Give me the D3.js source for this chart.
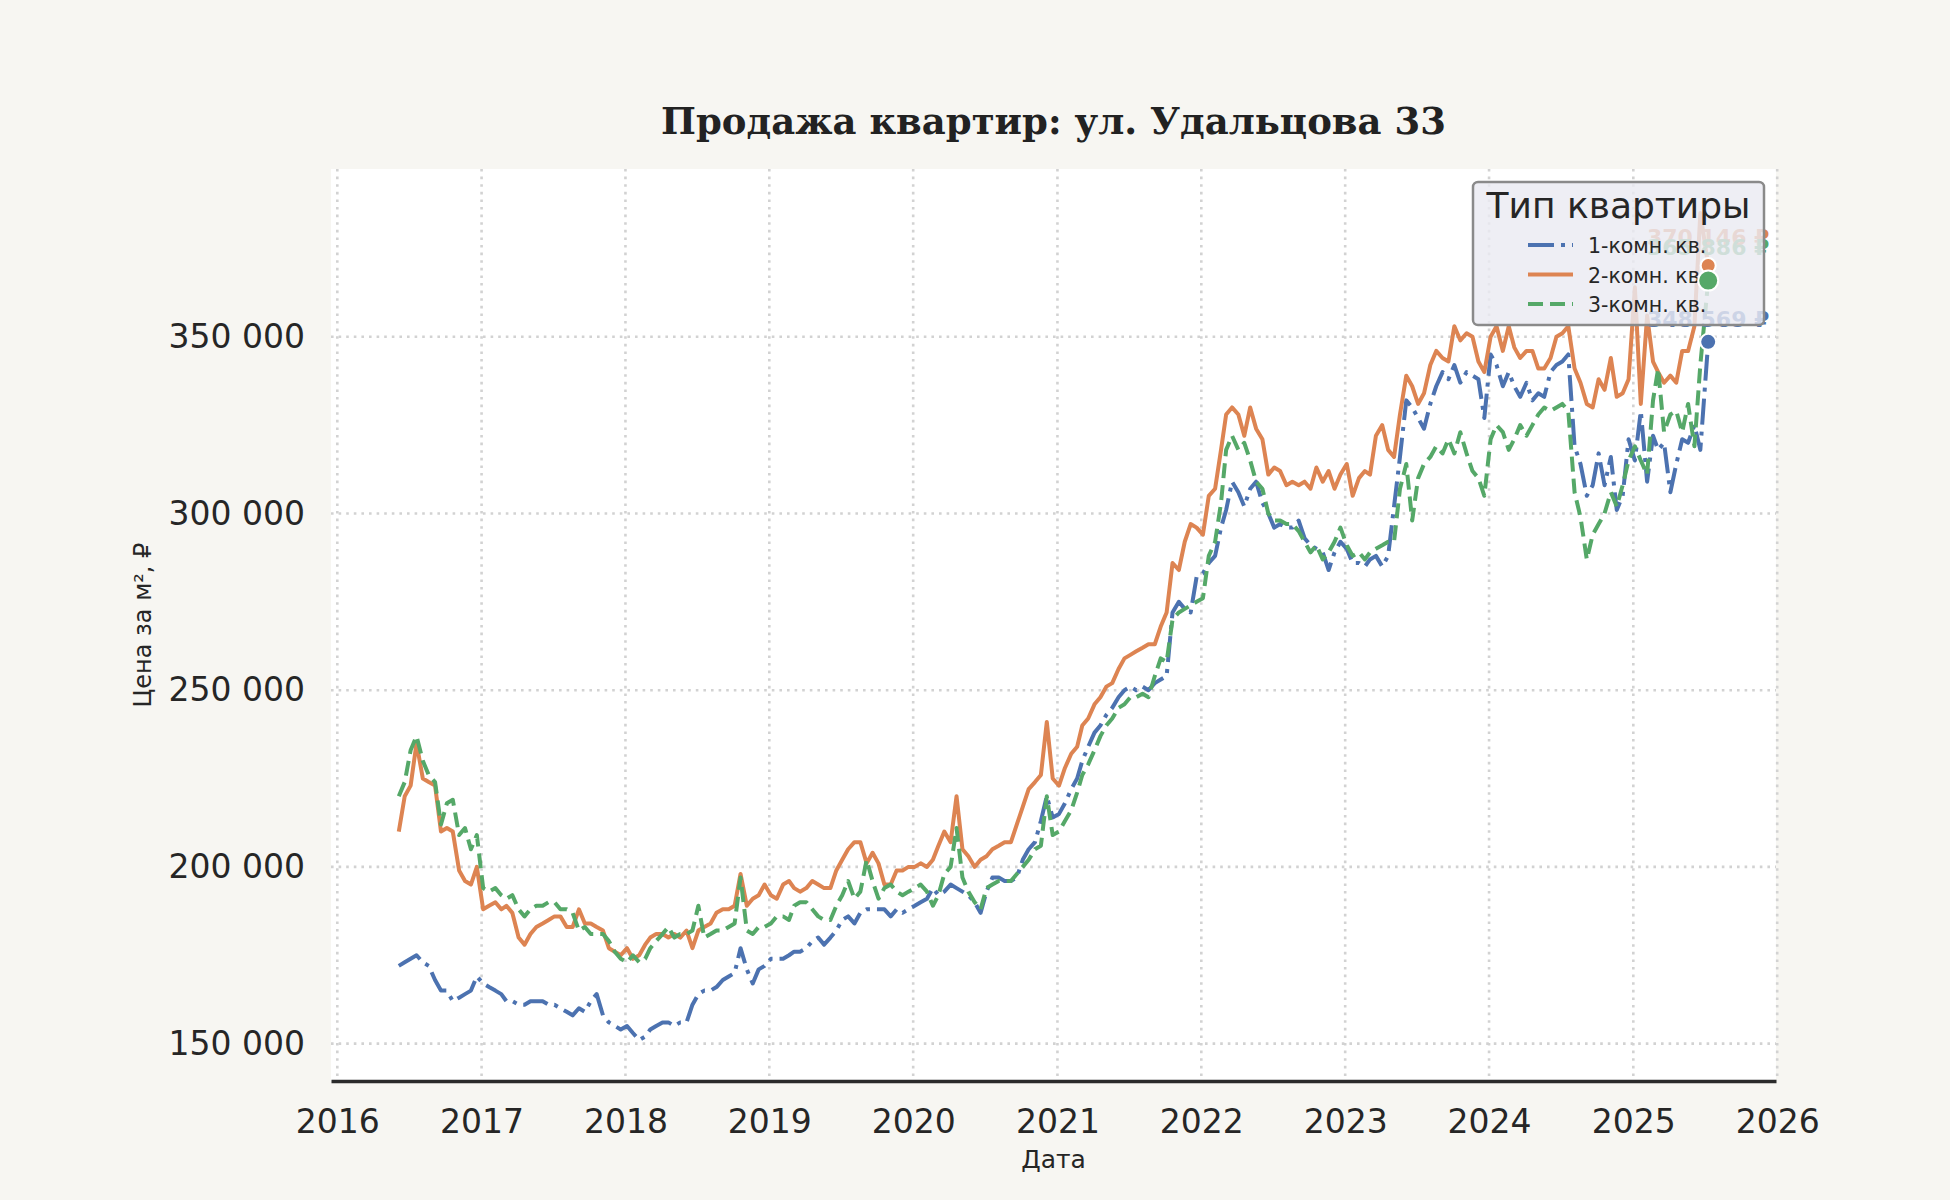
<!DOCTYPE html>
<html>
<head>
<meta charset="utf-8">
<script src="https://cdn.jsdelivr.net/npm/d3@7"></script>
<style>
  body { margin: 0; background: #f7f6f2; }
</style>
</head>
<body>
<div id="chart"></div>
<script>
const width = 1950;
const height = 1200;
const plot = { left: 331, right: 1776, top: 169, bottom: 1081 };

const chartTitle = 'Продажа квартир: ул. Удальцова 33';
const legendTitle = 'Тип квартиры';
const seriesNames = ['1-комн. кв.', '2-комн. кв.', '3-комн. кв.'];
const yearTicks = [2016, 2017, 2018, 2019, 2020, 2021, 2022, 2023, 2024, 2025, 2026];
const priceTicks = [150000, 200000, 250000, 300000, 350000];

// observations: the 5th and 20th of each month from 2016-06-05 to 2025-06-20, then the last one
const firstDate = '2016-06-05';
const gridEnd = '2025-06-20';
const lastDate = '2025-07-10';

// price per m², thousands of rubles, one row per year
const oneRoom = [
  172, 173, 174, 175, 173, 172, 168, 165, 165, 162, 163, 164, 165, 169,
  167, 166, 165, 164, 162, 162, 161, 161, 162, 162, 162, 161, 161, 160, 159, 158, 160, 159, 162, 164, 158, 156, 155, 154,
  155, 153, 151, 152, 154, 155, 156, 156, 155, 156, 156, 161, 164, 165, 165, 166, 168, 169, 170, 177, 171, 167, 171, 172,
  174, 174, 174, 175, 176, 176, 177, 179, 180, 178, 180, 182, 185, 186, 184, 187, 188, 188, 188, 188, 186, 188, 187, 188,
  189, 190, 191, 194, 192, 193, 195, 194, 193, 192, 190, 187, 193, 197, 197, 196, 196, 197, 202, 205, 207, 213, 220, 214,
  215, 218, 222, 225, 230, 234, 238, 240, 243, 245, 248, 250, 251, 250, 251, 250, 252, 253, 254, 272, 275, 273, 272, 282,
  283, 286, 288, 296, 301, 309, 306, 302, 307, 309, 303, 300, 296, 297, 296, 296, 298, 293, 291, 290, 289, 284, 289, 292,
  290, 286, 286, 285, 287, 288, 285, 288, 302, 316, 332, 330, 327, 324, 331, 336, 340, 338, 342, 337, 340, 339, 338, 327,
  345, 342, 336, 340, 336, 333, 337, 332, 334, 333, 340, 342, 343, 345, 319, 314, 305, 308, 317, 308, 316, 301, 305, 321,
  315, 329, 309, 322, 318, 320, 306, 314, 321, 320, 325, 318, 348.569
];

const twoRoom = [
  210, 220, 223, 235, 225, 224, 223, 210, 211, 210, 199, 196, 195, 200,
  188, 189, 190, 188, 189, 187, 180, 178, 181, 183, 184, 185, 186, 186, 183, 183, 188, 184, 184, 183, 182, 177, 176, 175,
  177, 174, 175, 178, 180, 181, 181, 180, 181, 180, 182, 177, 182, 183, 184, 187, 188, 188, 189, 198, 189, 191, 192, 195,
  192, 191, 195, 196, 194, 193, 194, 196, 195, 194, 194, 199, 202, 205, 207, 207, 201, 204, 201, 195, 195, 199, 199, 200,
  200, 201, 200, 202, 206, 210, 207, 220, 205, 203, 200, 202, 203, 205, 206, 207, 207, 212, 217, 222, 224, 226, 241, 225,
  223, 228, 232, 234, 240, 242, 246, 248, 251, 252, 256, 259, 260, 261, 262, 263, 263, 268, 272, 286, 284, 292, 297, 296,
  294, 305, 307, 318, 328, 330, 328, 322, 330, 324, 321, 311, 313, 312, 308, 309, 308, 309, 307, 313, 309, 312, 307, 311,
  314, 305, 310, 312, 311, 322, 325, 318, 316, 328, 339, 336, 331, 334, 342, 346, 344, 343, 353, 349, 351, 350, 343, 340,
  350, 353, 346, 353, 347, 344, 346, 346, 341, 341, 344, 350, 351, 353, 341, 337, 331, 330, 338, 335, 344, 333, 334, 338,
  364, 331, 356, 343, 340, 337, 339, 337, 346, 346, 353, 385, 370.146
];

const threeRoom = [
  220, 224, 233, 237, 230, 226, 224, 212, 218, 219, 209, 211, 205, 209,
  194, 193, 194, 192, 191, 192, 188, 186, 188, 189, 189, 190, 190, 188, 188, 187, 182, 183, 181, 181, 181, 179, 176, 174,
  173, 175, 173, 174, 177, 179, 181, 183, 180, 181, 181, 182, 189, 180, 181, 182, 182, 183, 184, 197, 182, 181, 183, 183,
  184, 186, 186, 185, 189, 190, 190, 188, 186, 185, 185, 189, 192, 196, 191, 193, 202, 196, 191, 194, 195, 193, 192, 193,
  194, 195, 193, 189, 192, 198, 200, 211, 197, 193, 190, 188, 194, 195, 196, 196, 196, 198, 200, 202, 205, 206, 220, 209,
  210, 213, 216, 221, 226, 229, 233, 237, 240, 242, 245, 246, 248, 248, 249, 248, 254, 259, 258, 270, 272, 273, 274, 275,
  276, 288, 292, 303, 318, 322, 318, 320, 315, 309, 307, 300, 298, 298, 297, 297, 295, 292, 289, 291, 287, 289, 292, 296,
  291, 288, 289, 287, 289, 290, 291, 292, 292, 307, 314, 298, 310, 314, 316, 319, 317, 321, 317, 323, 317, 312, 310, 305,
  321, 325, 323, 318, 321, 325, 322, 325, 328, 330, 329, 330, 331, 329, 306, 299, 287, 294, 297, 300, 306, 302, 308, 315,
  319, 315, 311, 332, 341, 323, 328, 329, 323, 331, 319, 342, 365.886
];

const colors = ['#4c72b0', '#dd8452', '#55a868'];
const dashes = ['26,7,4,7', null, '15,7'];
const dotRadius = [8, 7.5, 10];
const labelLift = [15, 21, 26];
const textColor = '#262626';
const font = 'DejaVu Sans, sans-serif';

const parseDate = d3.utcParse('%Y-%m-%d');
const start = parseDate(firstDate);
const stop = parseDate(gridEnd);
const dates = [];
for (let yr = 2016; yr <= 2025; yr++) {
  for (let m = 0; m < 12; m++) {
    for (const day of [5, 20]) {
      const dt = new Date(Date.UTC(yr, m, day));
      if (dt >= start && dt <= stop) dates.push(dt);
    }
  }
}
dates.push(parseDate(lastDate));

const series = [oneRoom, twoRoom, threeRoom].map((values, i) => ({
  name: seriesNames[i],
  color: colors[i],
  dash: dashes[i],
  points: values.map((v, j) => ({ date: dates[j], value: v * 1000 }))
}));
const last = d => d.points[d.points.length - 1];

const x = d3.scaleUtc()
  .domain([new Date(Date.UTC(2015, 11, 16)), new Date(Date.UTC(2025, 11, 29))])
  .range([plot.left, plot.right]);

const y = d3.scaleLinear()
  .domain([139420, 397470])
  .range([plot.bottom, plot.top]);

const ruLocale = d3.formatLocale({ decimal: ',', thousands: ' ', grouping: [3], currency: ['', ' ₽'] });
const fmtThousands = ruLocale.format(',.0f');

const svg = d3.select('#chart')
  .append('svg')
  .attr('width', width)
  .attr('height', height)
  .style('font-family', font);

svg.append('rect')
  .attr('width', width)
  .attr('height', height)
  .attr('fill', '#f7f6f2');

svg.append('rect')
  .attr('x', plot.left)
  .attr('y', plot.top)
  .attr('width', plot.right - plot.left)
  .attr('height', plot.bottom - plot.top)
  .attr('fill', '#ffffff');

// dotted grid
const grid = svg.append('g')
  .attr('stroke', '#d2d2d2')
  .attr('stroke-width', 2.6)
  .attr('stroke-dasharray', '2.6,5');

grid.selectAll('line.h')
  .data(priceTicks)
  .join('line')
  .attr('class', 'h')
  .attr('x1', plot.left)
  .attr('x2', plot.right)
  .attr('y1', d => y(d))
  .attr('y2', d => y(d));

grid.selectAll('line.v')
  .data(yearTicks)
  .join('line')
  .attr('class', 'v')
  .attr('x1', d => x(new Date(Date.UTC(d, 0, 1))))
  .attr('x2', d => x(new Date(Date.UTC(d, 0, 1))))
  .attr('y1', plot.top)
  .attr('y2', plot.bottom);

// axes
const xAxis = svg.append('g')
  .attr('transform', `translate(0,${plot.bottom})`)
  .call(d3.axisBottom(x)
    .tickValues(yearTicks.map(yr => new Date(Date.UTC(yr, 0, 1))))
    .tickFormat(d3.utcFormat('%Y'))
    .tickSize(0)
    .tickPadding(29));

xAxis.select('.domain')
  .attr('stroke', '#2b2b2b')
  .attr('stroke-width', 3.5);
xAxis.selectAll('text')
  .attr('fill', textColor)
  .style('font-size', '33px')
  .style('font-family', font);

const yAxis = svg.append('g')
  .attr('transform', `translate(${plot.left},0)`)
  .call(d3.axisLeft(y)
    .tickValues(priceTicks)
    .tickFormat(fmtThousands)
    .tickSize(0)
    .tickPadding(26));

yAxis.select('.domain').remove();
yAxis.selectAll('text')
  .attr('fill', textColor)
  .style('font-size', '33px')
  .style('font-family', font);

svg.append('text')
  .attr('x', (plot.left + plot.right) / 2)
  .attr('y', 1168)
  .attr('text-anchor', 'middle')
  .attr('fill', textColor)
  .style('font-size', '25px')
  .text('Дата');

svg.append('text')
  .attr('transform', `translate(151,${(plot.top + plot.bottom) / 2}) rotate(-90)`)
  .attr('text-anchor', 'middle')
  .attr('fill', textColor)
  .style('font-size', '24px')
  .text('Цена за м², ₽');

svg.append('text')
  .attr('x', (plot.left + plot.right) / 2)
  .attr('y', 134)
  .attr('text-anchor', 'middle')
  .attr('fill', '#222222')
  .style('font-family', 'DejaVu Serif, serif')
  .style('font-weight', 'bold')
  .style('font-size', '37px')
  .text(chartTitle);

// lines
const line = d3.line()
  .x(d => x(d.date))
  .y(d => y(d.value));

svg.append('g')
  .selectAll('path')
  .data(series)
  .join('path')
  .attr('d', d => line(d.points))
  .attr('fill', 'none')
  .attr('stroke', d => d.color)
  .attr('stroke-width', 4)
  .attr('stroke-linejoin', 'round')
  .attr('stroke-dasharray', d => d.dash);

// last-value labels (sit under the legend)
svg.append('g')
  .selectAll('text')
  .data(series)
  .join('text')
  .attr('x', d => x(last(d).date))
  .attr('y', (d, i) => y(last(d).value) - labelLift[i])
  .attr('text-anchor', 'middle')
  .attr('fill', d => d.color)
  .style('font-size', '22px')
  .style('font-weight', 'bold')
  .text(d => fmtThousands(last(d).value) + ' ₽');

// legend
const legend = svg.append('g')
  .attr('transform', `translate(${plot.right - 303},${plot.top + 13})`);

legend.append('rect')
  .attr('width', 291)
  .attr('height', 143)
  .attr('rx', 5)
  .attr('fill', '#eaeaf2')
  .attr('fill-opacity', 0.82)
  .attr('stroke', '#8a8a8a')
  .attr('stroke-width', 2.5);

legend.append('text')
  .attr('x', 145.5)
  .attr('y', 36)
  .attr('text-anchor', 'middle')
  .attr('fill', textColor)
  .style('font-size', '36px')
  .text(legendTitle);

const items = legend.selectAll('g.item')
  .data(series)
  .join('g')
  .attr('class', 'item')
  .attr('transform', (d, i) => `translate(0,${71 + i * 29.5})`);

items.append('line')
  .attr('x1', 55)
  .attr('x2', 100)
  .attr('y1', -8)
  .attr('y2', -8)
  .attr('stroke', d => d.color)
  .attr('stroke-width', 4)
  .attr('stroke-dasharray', d => d.dash);

items.append('text')
  .attr('x', 115)
  .attr('fill', textColor)
  .style('font-size', '20.5px')
  .text(d => d.name);

// last points on top
svg.append('g')
  .selectAll('circle')
  .data(series)
  .join('circle')
  .attr('cx', d => x(last(d).date))
  .attr('cy', d => y(last(d).value))
  .attr('r', (d, i) => dotRadius[i])
  .attr('fill', d => d.color)
  .attr('stroke', '#ffffff')
  .attr('stroke-width', 2);
</script>
</body>
</html>
